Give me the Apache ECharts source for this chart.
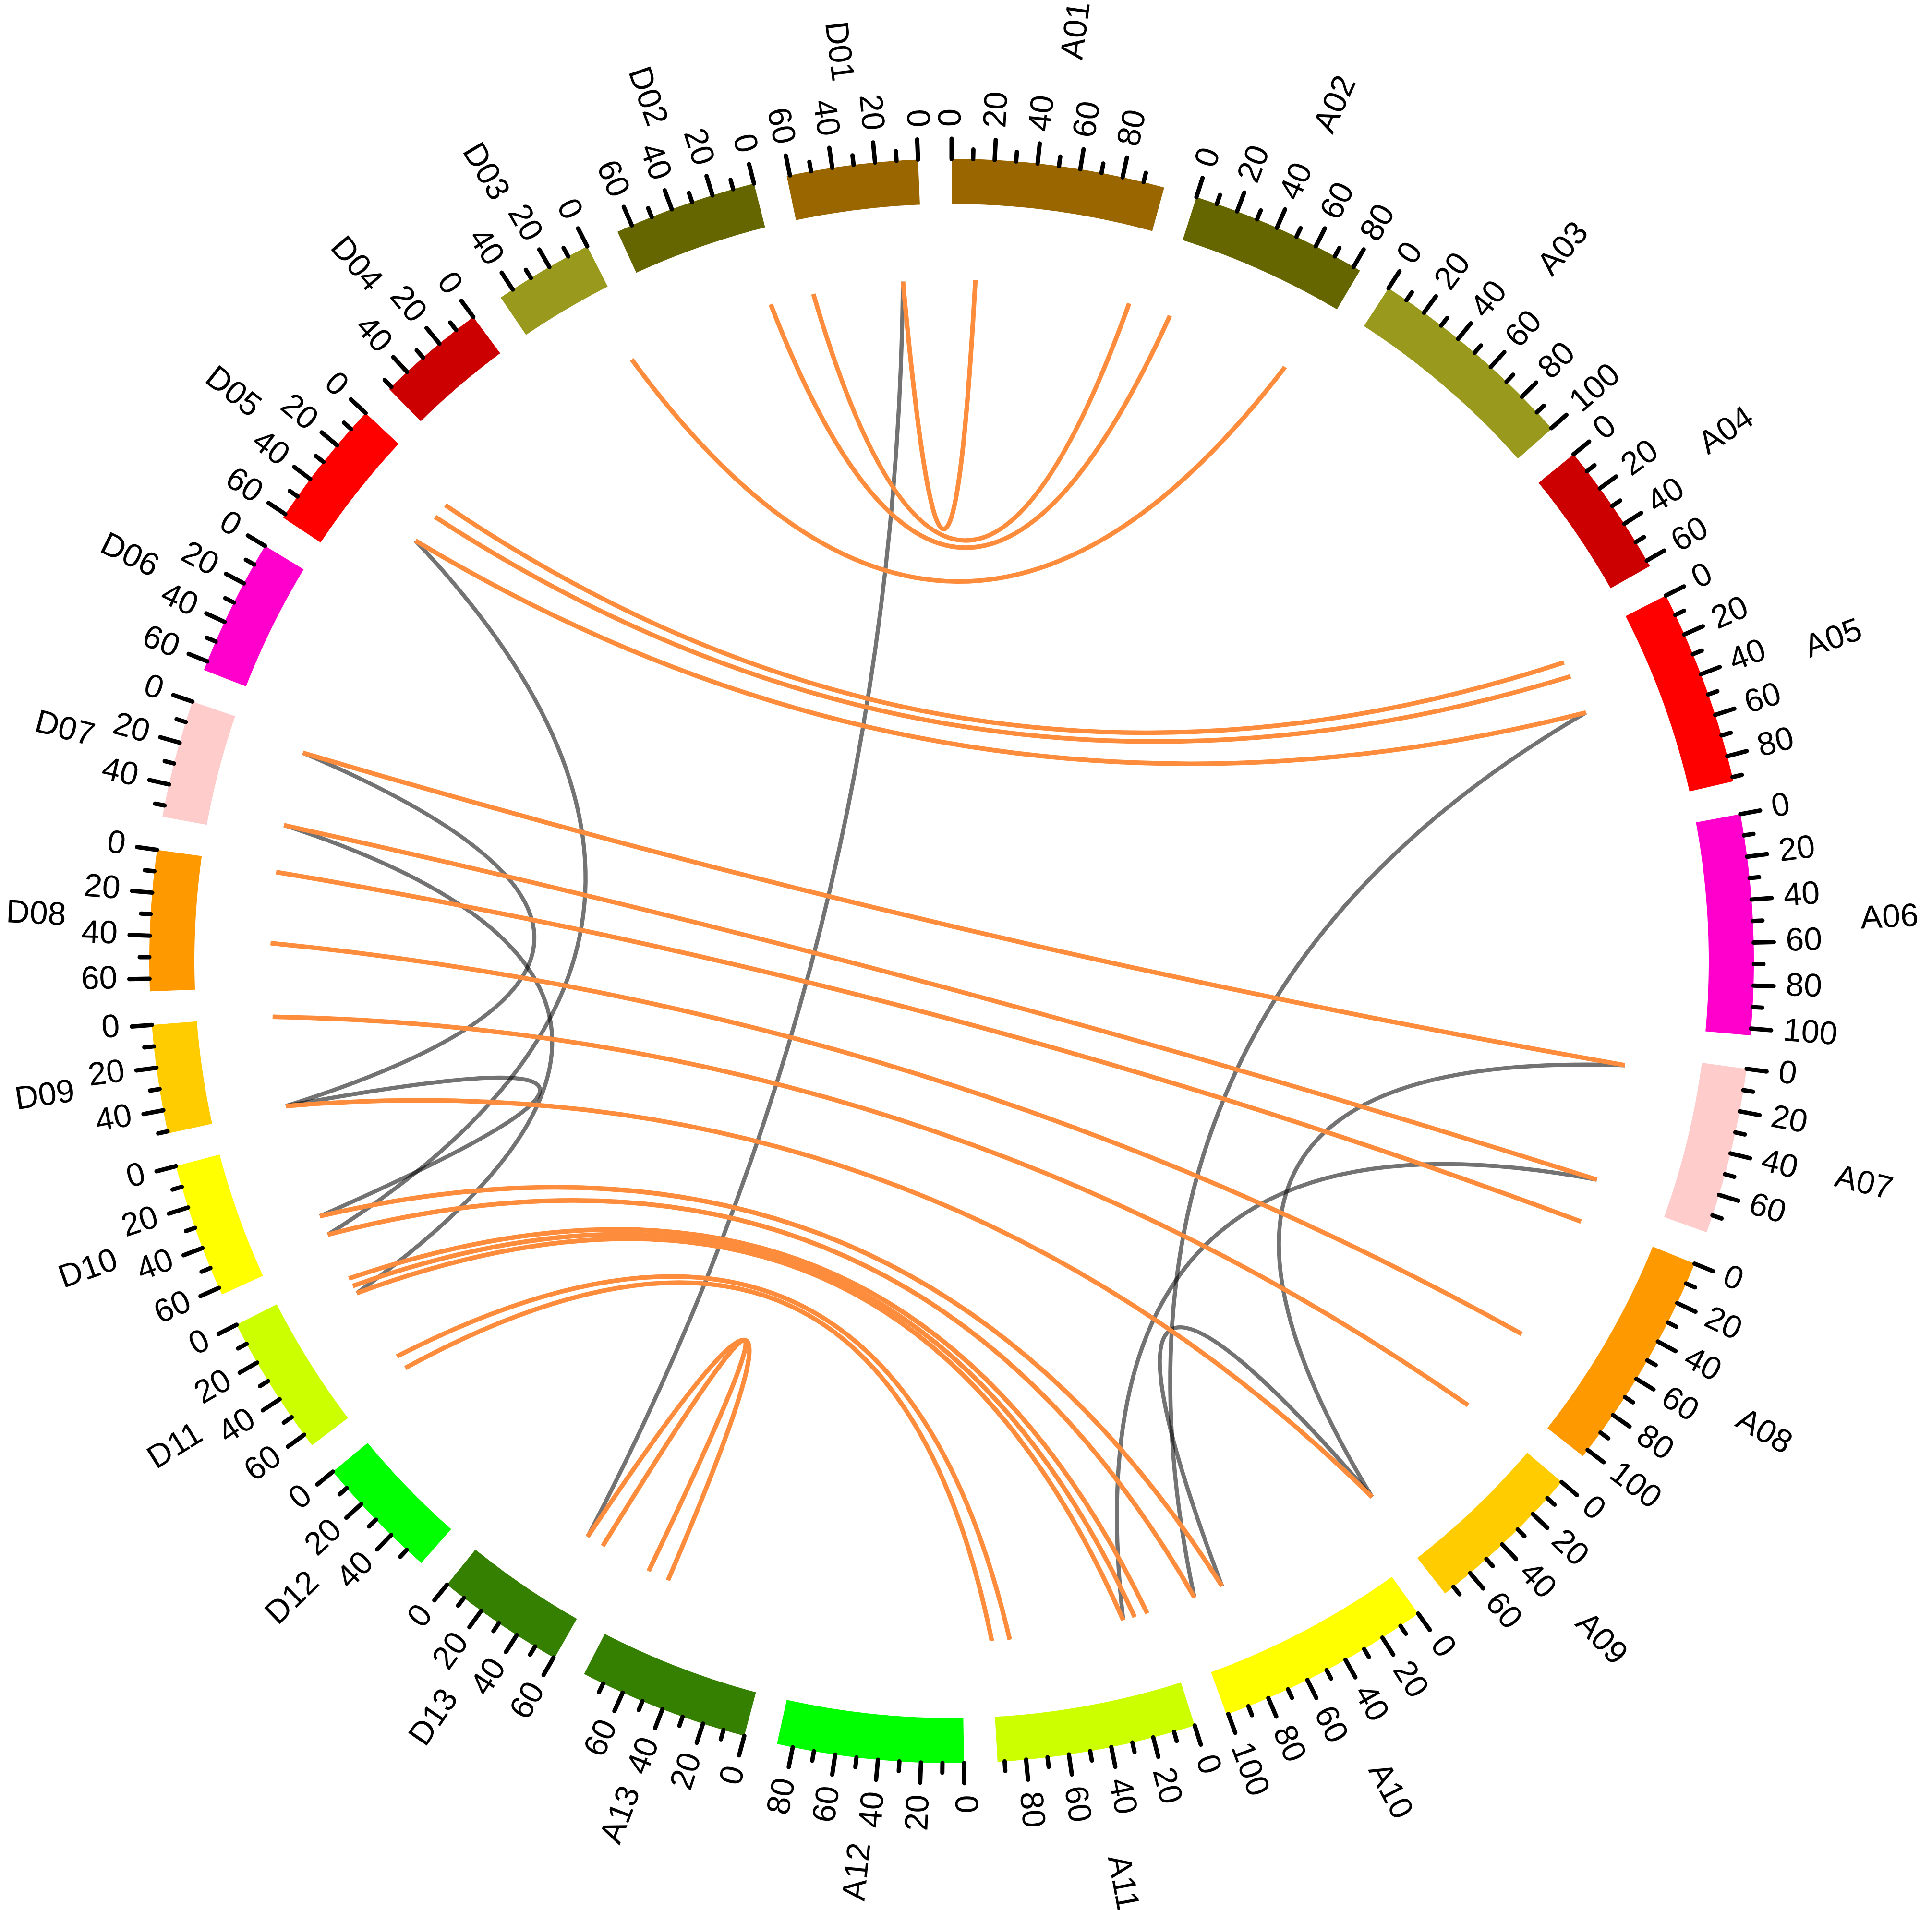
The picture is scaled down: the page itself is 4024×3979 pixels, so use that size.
<!DOCTYPE html>
<html>
<head>
<meta charset="UTF-8">
<title>Collinearity circos</title>
<script src="https://cdn.jsdelivr.net/npm/echarts@6/dist/echarts.min.js"></script>
<style>html,body{margin:0;padding:0;background:#fff;}</style>
</head>
<body>
<div id="main" style="width:4024px;height:3979px;"></div>
<script type="text/javascript">
// chromosome sizes in Mb (A subgenome runs clockwise, D subgenome runs back)
var chrA = ['A01','A02','A03','A04','A05','A06','A07','A08','A09','A10','A11','A12','A13'];
var lenA = [99.9, 83.4, 100.3, 62.9, 92.0, 103.2, 78.3, 103.6, 75.0, 100.9, 93.3, 87.5, 79.9];
var chrD = ['D01','D02','D03','D04','D05','D06','D07','D08','D09','D10','D11','D12','D13'];
var lenD = [61.5, 67.3, 46.7, 51.5, 61.9, 64.3, 55.3, 65.9, 51.0, 63.4, 66.1, 59.1, 60.5];
var chrColors = ['#996600','#666600','#99991E','#CC0000','#FF0000','#FF00CC','#FFCCCC',
                 '#FF9900','#FFCC00','#FFFF00','#CCFF00','#00FF00','#358000'];

var tickStep = 10;   // minor ticks
var labelStep = 20;  // labelled ticks

// [chrom, Mb, chrom, Mb]
var orangeLinks = [
    ['D01', 11.0, 'A01', 13.0],
    ['D01', 60.5, 'A01', 98.2],
    ['D02', 7.4, 'A02', 6.0],
    ['D03', 6.4, 'A02', 75.0],
    ['D05', 7.0, 'A05', 7.2],
    ['D05', 15.5, 'A05', 15.6],
    ['D05', 32.4, 'A05', 37.1],
    ['D07', 7.0, 'A07', 7.0],
    ['D07', 47.9, 'A07', 71.5],
    ['D08', 3.0, 'A08', 2.1],
    ['D08', 42.0, 'A08', 71.7],
    ['D09', 0.8, 'A09', 1.3],
    ['D09', 50.2, 'A09', 74.0],
    ['D10', 46.7, 'A10', 79.1],
    ['D10', 57.7, 'A10', 95.4],
    ['D11', 5.3, 'A11', 6.1],
    ['D11', 9.9, 'A11', 13.3],
    ['D11', 14.4, 'A11', 19.8],
    ['D11', 55.4, 'A11', 82.8],
    ['D11', 63.2, 'A11', 92.6],
    ['D13', 43.4, 'A13', 62.6],
    ['D13', 53.1, 'A13', 74.3]
];
var grayLinks = [
    ['D01', 11.0, 'D13', 43.4],
    ['D05', 32.4, 'D10', 57.7],
    ['D07', 7.0, 'D09', 50.2],
    ['D07', 47.9, 'D11', 14.4],
    ['D09', 50.2, 'D10', 46.7],
    ['A05', 37.1, 'A10', 95.4],
    ['A07', 7.0, 'A09', 74.0],
    ['A07', 71.5, 'A11', 19.8],
    ['A09', 74.0, 'A10', 79.1]
];

var GAP = 15.6; // gap between chromosomes, in Mb of angle

// layout: A01..A13 then D13..D01 around the circle
var layout = [];
var i;
for (i = 0; i < chrA.length; i++) layout.push({name: chrA[i], len: lenA[i], color: chrColors[i], rev: false});
for (i = chrD.length - 1; i >= 0; i--) layout.push({name: chrD[i], len: lenD[i], color: chrColors[i], rev: true});
var cur = 0, byName = {};
layout.forEach(function (s) { s.start = cur; cur += s.len + GAP; byName[s.name] = s; });
var TOTAL = cur;

function pos(name, p) {
    var s = byName[name];
    return s.rev ? s.start + s.len - p : s.start + p;
}

// radii in px
var R_IN = 1577, R_OUT = 1671, R_MAJ = 1713, R_MIN = 1691;
var R_TLAB = 1738, R_LINK = 1419, R_NAME_R = 1895, R_NAME_L = 1847;
var FONT = 'Liberation Sans';

var ticks = [];
layout.forEach(function (s) {
    for (var v = 0; v <= s.len + 1e-9; v += tickStep) {
        ticks.push({chr: s, v: v, major: v % labelStep === 0});
    }
});

// radial text: reads outward on the right half, inward on the left half
function radialText(api, r, a, text) {
    var c = api.coord([0, a]);
    var p = api.coord([r, a]);
    var ang = Math.atan2(p[1] - c[1], p[0] - c[0]);
    var keep = ang >= -Math.PI / 2 - 1e-6 && ang < Math.PI / 2 - 1e-6;
    return {
        type: 'text', x: p[0], y: p[1],
        rotation: keep ? -ang : -(ang + Math.PI),
        style: {text: text, fill: '#000', fontSize: 68, fontFamily: FONT,
                align: keep ? 'left' : 'right', verticalAlign: 'middle'}
    };
}

function linkSeries(list, color, width) {
    return {
        type: 'custom', coordinateSystem: 'polar', silent: true,
        data: list.map(function (l) { return [R_LINK, pos(l[0], l[1])]; }),
        renderItem: function (params, api) {
            var l = list[params.dataIndex];
            var a0 = pos(l[0], l[1]), a1 = pos(l[2], l[3]);
            var p0 = api.coord([R_LINK, a0]);
            var p2 = api.coord([R_LINK, a1]);
            var c = api.coord([0, a0]);
            var mx = (p0[0] + p2[0]) / 2, my = (p0[1] + p2[1]) / 2;
            var k = 0.27;
            return {
                type: 'bezierCurve',
                shape: {x1: p0[0], y1: p0[1], x2: p2[0], y2: p2[1],
                        cpx1: c[0] + k * (mx - c[0]), cpy1: c[1] + k * (my - c[1])},
                style: {stroke: color, lineWidth: width, fill: 'none'}
            };
        }
    };
}

var myChart = echarts.init(document.getElementById('main'));

var option = {
    backgroundColor: '#fff',
    animation: false,
    polar: {center: [1982, 2002], radius: 2000},
    angleAxis: {type: 'value', min: 0, max: TOTAL, startAngle: 90, clockwise: true, show: false},
    radiusAxis: {type: 'value', min: 0, max: 2000, show: false},
    series: [
        linkSeries(grayLinks, 'rgba(0,0,0,0.55)', 8.5),
        linkSeries(orangeLinks, '#FD8D3C', 9.5),
        {
            // ideogram blocks
            type: 'custom', coordinateSystem: 'polar', silent: true,
            data: layout.map(function (s) { return [R_OUT, s.start]; }),
            renderItem: function (params, api) {
                var s = layout[params.dataIndex];
                var pts = [], n = 60, j;
                for (j = 0; j <= n; j++) pts.push(api.coord([R_OUT, s.start + s.len * j / n]));
                for (j = n; j >= 0; j--) pts.push(api.coord([R_IN, s.start + s.len * j / n]));
                return {type: 'polygon', shape: {points: pts}, style: {fill: s.color}};
            }
        },
        {
            // ticks and tick labels
            type: 'custom', coordinateSystem: 'polar', silent: true,
            data: ticks.map(function (t) { return [R_OUT, pos(t.chr.name, t.v)]; }),
            renderItem: function (params, api) {
                var t = ticks[params.dataIndex];
                var a = pos(t.chr.name, t.v);
                var p1 = api.coord([R_OUT, a]);
                var p2 = api.coord([t.major ? R_MAJ : R_MIN, a]);
                var kids = [{
                    type: 'line',
                    shape: {x1: p1[0], y1: p1[1], x2: p2[0], y2: p2[1]},
                    style: {stroke: '#000', lineWidth: 9, lineCap: 'round'}
                }];
                if (t.major) kids.push(radialText(api, R_TLAB, a, String(t.v)));
                return {type: 'group', children: kids};
            }
        },
        {
            // chromosome names
            type: 'custom', coordinateSystem: 'polar', silent: true,
            data: layout.map(function (s) { return [R_NAME_R, s.start + s.len / 2]; }),
            renderItem: function (params, api) {
                var s = layout[params.dataIndex];
                var a = s.start + s.len / 2;
                var c = api.coord([0, a]), p = api.coord([R_NAME_R, a]);
                var right = p[0] >= c[0] - 1e-6 && !(Math.abs(p[0] - c[0]) < 1e-6 && p[1] > c[1]);
                return radialText(api, right ? R_NAME_R : R_NAME_L, a, s.name);
            }
        }
    ]
};

myChart.setOption(option);
</script>
</body>
</html>
